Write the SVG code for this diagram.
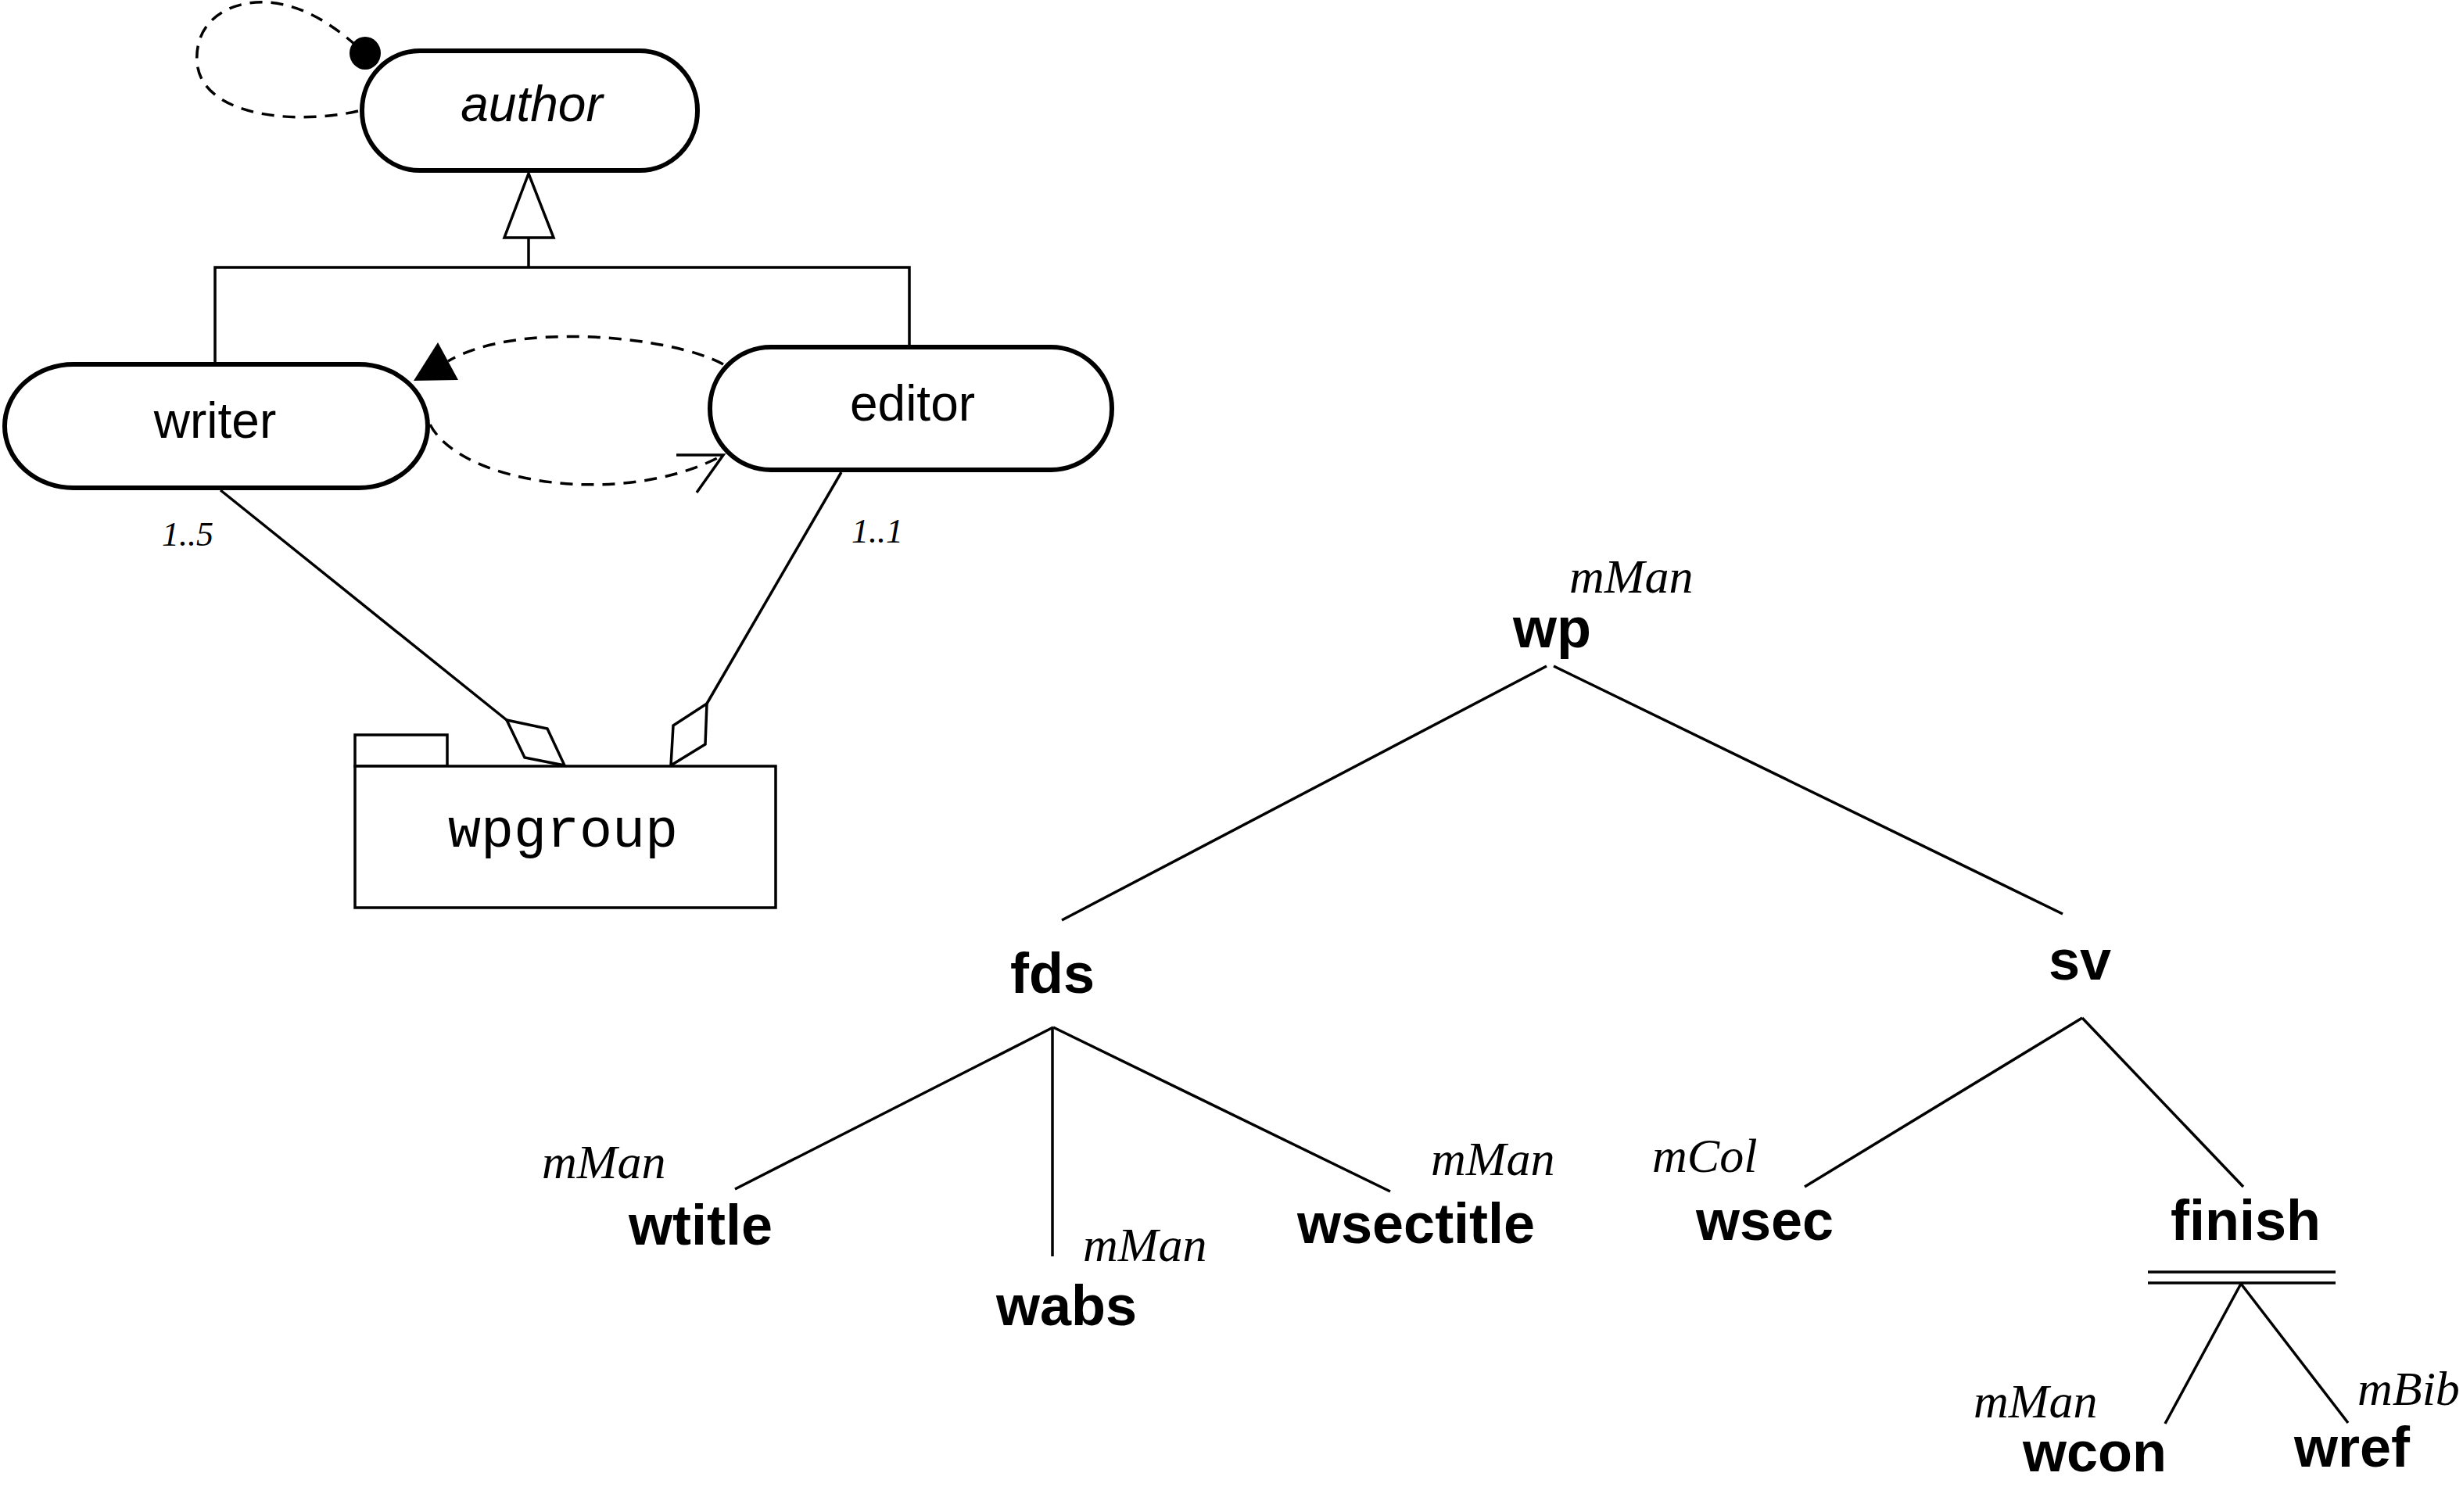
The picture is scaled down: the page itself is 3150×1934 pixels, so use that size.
<svg xmlns="http://www.w3.org/2000/svg" width="3150" height="1934" viewBox="0 0 3150 1934">
<style>
.node{fill:#fff;stroke:#000;stroke-width:6}
.ln{fill:none;stroke:#000;stroke-width:3.5}
.dash{fill:none;stroke:#000;stroke-width:3.5;stroke-dasharray:16 11}
.tl{fill:none;stroke:#000;stroke-width:3.5}
.sans{font-family:"Liberation Sans",Arial,sans-serif;font-size:64px;fill:#000}
.bold{font-family:"Liberation Sans",Arial,sans-serif;font-size:72px;font-weight:bold;fill:#000}
.mod{font-family:"Liberation Serif","Times New Roman",serif;font-size:62px;font-style:italic;fill:#000}
.mult{font-family:"Liberation Serif","Times New Roman",serif;font-size:44px;font-style:italic;fill:#000}
.mono{font-family:"Liberation Mono","Courier New",monospace;font-size:70px;fill:#000}
</style>
<rect width="3150" height="1934" fill="#fff"/>
<g id="connectors">
  <path class="dash" d="M 458 142 C 380 160, 258 150, 252 80 C 248 22, 300 0, 342 3 C 390 6, 430 35, 462 64"/>
  <ellipse cx="467" cy="68" rx="20" ry="21" fill="#000"/>
  <polyline class="ln" points="275,466 275,342 1163,342 1163,444"/>
  <line class="ln" x1="676" y1="342" x2="676" y2="304"/>
  <polygon points="676,222 645,304 708,304" fill="#fff" stroke="#000" stroke-width="3.5"/>
  <path class="dash" d="M 925 466 C 860 430, 660 410, 573 462"/>
  <polygon points="560,438 586,486 529,487" fill="#000"/>
  <path class="dash" d="M 550 543 C 590 620, 800 650, 925 582"/>
  <polyline class="ln" points="865,582 925,582 891,630"/>
  <line class="ln" x1="282" y1="627" x2="648" y2="921"/>
  <polygon points="648,921 700,932 722,979 671,969" fill="#fff" stroke="#000" stroke-width="3.5"/>
  <line class="ln" x1="1076" y1="604" x2="904" y2="900"/>
  <polygon points="904,900 902,952 858,979 861,928" fill="#fff" stroke="#000" stroke-width="3.5"/>
  <text class="mult" x="207" y="698">1..5</text>
  <text class="mult" x="1089" y="694">1..1</text>
  <line class="tl" x1="1978" y1="852" x2="1358" y2="1177"/>
  <line class="tl" x1="1987" y1="852" x2="2638" y2="1169"/>
  <line class="tl" x1="1347" y1="1314" x2="940" y2="1521"/>
  <line class="tl" x1="1346" y1="1314" x2="1346" y2="1607"/>
  <line class="tl" x1="1347" y1="1314" x2="1778" y2="1524"/>
  <line class="tl" x1="2663" y1="1302" x2="2308" y2="1518"/>
  <line class="tl" x1="2663" y1="1302" x2="2869" y2="1518"/>
  <line class="tl" x1="2747" y1="1627" x2="2987" y2="1627"/>
  <line class="tl" x1="2747" y1="1641" x2="2987" y2="1641"/>
  <line class="tl" x1="2866" y1="1642" x2="2769" y2="1821"/>
  <line class="tl" x1="2866" y1="1642" x2="3003" y2="1820"/>
</g>
<g id="author">
  <rect class="node" x="463" y="65" width="429" height="153" rx="74" ry="76"/>
  <text class="sans" x="680" y="155" text-anchor="middle" font-style="italic" font-size="66">author</text>
</g>
<g id="writer">
  <rect class="node" x="6" y="466" width="541" height="158" rx="88" ry="79"/>
  <text class="sans" x="275" y="560" text-anchor="middle">writer</text>
</g>
<g id="editor">
  <rect class="node" x="908" y="444" width="514" height="157" rx="78" ry="78"/>
  <text class="sans" x="1167" y="538" text-anchor="middle">editor</text>
</g>
<g id="wpgroup">
  <rect x="454" y="940" width="118" height="40" fill="#fff" stroke="#000" stroke-width="3.5"/>
  <rect x="454" y="980" width="538" height="181" fill="#fff" stroke="#000" stroke-width="3.5"/>
  <text class="mono" x="720" y="1083" text-anchor="middle">wpgroup</text>
</g>
<g id="wp">
  <text class="mod" x="2007" y="758">mMan</text>
  <text class="bold" x="1935" y="828">wp</text>
</g>
<g id="fds">
  <text class="bold" x="1346" y="1270" text-anchor="middle">fds</text>
</g>
<g id="sv">
  <text class="bold" x="2660" y="1253" text-anchor="middle">sv</text>
</g>
<g id="wtitle">
  <text class="mod" x="693" y="1507">mMan</text>
  <text class="bold" x="804" y="1592">wtitle</text>
</g>
<g id="wabs">
  <text class="mod" x="1385" y="1613">mMan</text>
  <text class="bold" x="1274" y="1695">wabs</text>
</g>
<g id="wsectitle">
  <text class="mod" x="1830" y="1503">mMan</text>
  <text class="bold" x="1659" y="1590">wsectitle</text>
</g>
<g id="wsec">
  <text class="mod" x="2113" y="1499">mCol</text>
  <text class="bold" x="2169" y="1586">wsec</text>
</g>
<g id="finish">
  <text class="bold" x="2776" y="1586">finish</text>
</g>
<g id="wcon">
  <text class="mod" x="2524" y="1813">mMan</text>
  <text class="bold" x="2587" y="1882">wcon</text>
</g>
<g id="wref">
  <text class="mod" x="3015" y="1797">mBib</text>
  <text class="bold" x="2934" y="1876">wref</text>
</g>
</svg>
